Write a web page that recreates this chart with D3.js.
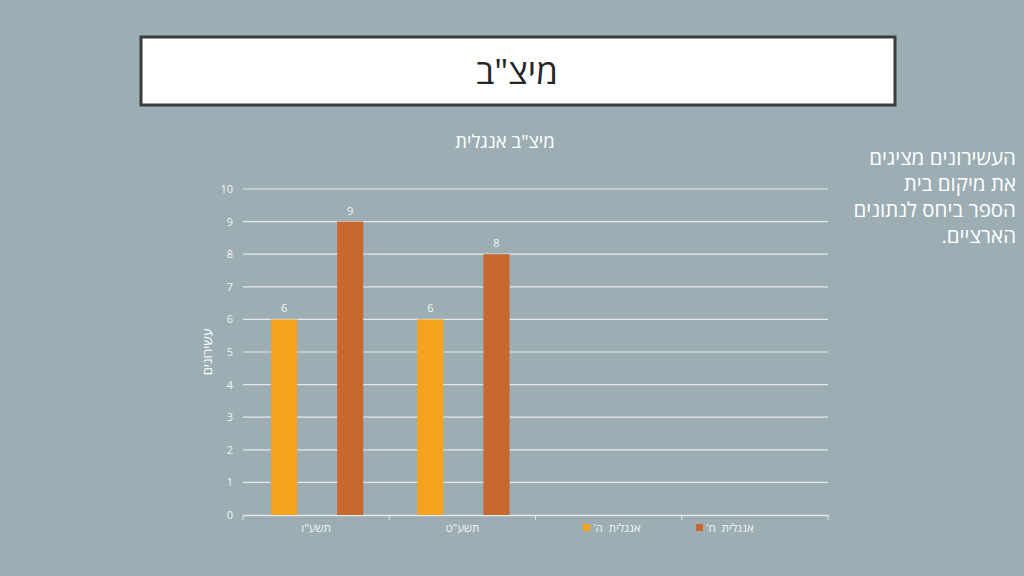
<!DOCTYPE html>
<html lang="he">
<head>
<meta charset="utf-8">
<script src="https://cdn.jsdelivr.net/npm/d3@7"></script>
<style>
  html, body { margin: 0; padding: 0; background: #9caeb3; }
  svg { display: block; font-family: "Open Sans", "DejaVu Sans", sans-serif; }
</style>
</head>
<body>
<div id="slide"></div>
<script>
// data
var categories = ["תשע\"ו", "תשע\"ט", "", " "];
var seriesNames = ["אנגלית  ה'", "אנגלית  ח'"];
var seriesE = [6, 6, null, null];
var seriesH = [9, 8, null, null];
var yTicks = [0, 1, 2, 3, 4, 5, 6, 7, 8, 9, 10];
var colors = ["#f5a21c", "#c8682f"];

var W = 1024, H = 576;
var svg = d3.select("#slide").append("svg")
  .attr("width", W).attr("height", H);

svg.append("rect").attr("width", W).attr("height", H).attr("fill", "#9caeb3");

// title box
svg.append("rect")
  .attr("x", 141).attr("y", 37).attr("width", 754).attr("height", 68)
  .attr("fill", "#ffffff").attr("stroke", "#3c3c3c").attr("stroke-width", 3);
svg.append("text")
  .attr("x", 517).attr("y", 84)
  .attr("text-anchor", "middle").attr("direction", "rtl")
  .attr("font-size", 35).attr("fill", "#262626")
  .text("מיצ\"ב");

// side note
var note = ["העשירונים מציגים", "את מיקום בית", "הספר ביחס לנתונים", "הארציים."];
svg.append("g").selectAll("text").data(note).enter().append("text")
  .attr("x", 1016).attr("y", function(d, i) { return 165 + i * 26; })
  .attr("text-anchor", "start").attr("direction", "rtl")
  .attr("font-size", 20.5).attr("fill", "#ffffff")
  .text(function(d) { return d; });

// chart
var margin = {left: 243, right: 196, top: 189, bottom: 61};
var x0 = d3.scaleBand().domain(categories).range([margin.left, W - margin.right]).padding(0);
var x1 = d3.scaleBand().domain(seriesNames).range([28, x0.bandwidth() - 26]).paddingInner(0.606).paddingOuter(0);
var y = d3.scaleLinear().domain([0, 10]).range([H - margin.bottom, margin.top]);

svg.append("text")
  .attr("x", 505).attr("y", 148)
  .attr("text-anchor", "middle").attr("direction", "rtl")
  .attr("font-size", 18.5).attr("fill", "#ffffff")
  .text("מיצ\"ב אנגלית");

// gridlines
svg.append("g").selectAll("line").data(yTicks.slice(1)).enter().append("line")
  .attr("x1", x0.range()[0]).attr("x2", x0.range()[1])
  .attr("y1", function(d) { return y(d); }).attr("y2", function(d) { return y(d); })
  .attr("stroke", "#e4e8ea").attr("stroke-width", 1.2);

// y axis
var yAxis = svg.append("g")
  .attr("transform", "translate(" + margin.left + ",0)")
  .call(d3.axisLeft(y).tickValues(yTicks).tickSize(0).tickPadding(10));
yAxis.select(".domain").remove();
yAxis.selectAll("text").attr("fill", "#f2f4f5").attr("font-size", 11)
  .attr("font-family", "'Open Sans', sans-serif");

svg.append("text")
  .attr("transform", "translate(212," + y(5) + ") rotate(-90)")
  .attr("text-anchor", "middle").attr("direction", "rtl")
  .attr("font-size", 13).attr("fill", "#ffffff")
  .text("עשירונים");

// x axis
var xAxis = svg.append("g")
  .attr("transform", "translate(0," + y(0) + ")")
  .call(d3.axisBottom(x0).tickSize(0).tickPadding(9));
xAxis.select(".domain").attr("stroke", "#e4e8ea").attr("stroke-width", 1.5);
xAxis.selectAll("text").attr("fill", "#f2f4f5").attr("font-size", 11.5)
  .attr("direction", "rtl").attr("font-family", "'Open Sans', sans-serif");
var edges = categories.map(function(c) { return x0(c); }).concat([x0.range()[1]]);
xAxis.selectAll("line.sep").data(edges).enter().append("line")
  .attr("class", "sep")
  .attr("x1", function(d) { return d; }).attr("x2", function(d) { return d; })
  .attr("y1", 0).attr("y2", 5)
  .attr("stroke", "#e4e8ea");

// bars
var rows = categories.map(function(c, i) {
  return {cat: c, vals: [seriesE[i], seriesH[i]]};
});
var groups = svg.append("g").selectAll("g").data(rows).enter().append("g")
  .attr("transform", function(d) { return "translate(" + x0(d.cat) + ",0)"; });
var cells = groups.selectAll("g").data(function(d) {
    return d.vals.map(function(v, j) { return {name: seriesNames[j], v: v, j: j}; })
      .filter(function(e) { return e.v != null; });
  }).enter().append("g");
cells.append("rect")
  .attr("x", function(d) { return x1(d.name); })
  .attr("y", function(d) { return y(d.v); })
  .attr("width", x1.bandwidth())
  .attr("height", function(d) { return y(0) - y(d.v); })
  .attr("fill", function(d) { return colors[d.j]; });
cells.append("text")
  .attr("x", function(d) { return x1(d.name) + x1.bandwidth() / 2; })
  .attr("y", function(d) { return y(d.v) - 7; })
  .attr("text-anchor", "middle")
  .attr("font-size", 11).attr("fill", "#f2f4f5")
  .text(function(d) { return d.v; });

// legend
var legendX = [590, 703];
var leg = svg.append("g").selectAll("g").data(seriesNames).enter().append("g")
  .attr("transform", function(d, i) { return "translate(" + legendX[i] + ",528)"; });
leg.append("rect")
  .attr("x", -7).attr("y", -4).attr("width", 7).attr("height", 7)
  .attr("fill", function(d, i) { return colors[i]; });
leg.append("text")
  .attr("x", 3).attr("y", 4)
  .attr("text-anchor", "end").attr("direction", "rtl")
  .attr("font-size", 11.5).attr("fill", "#f2f4f5")
  .attr("xml:space", "preserve").style("white-space", "pre")
  .text(function(d) { return d; });
</script>
</body>
</html>
